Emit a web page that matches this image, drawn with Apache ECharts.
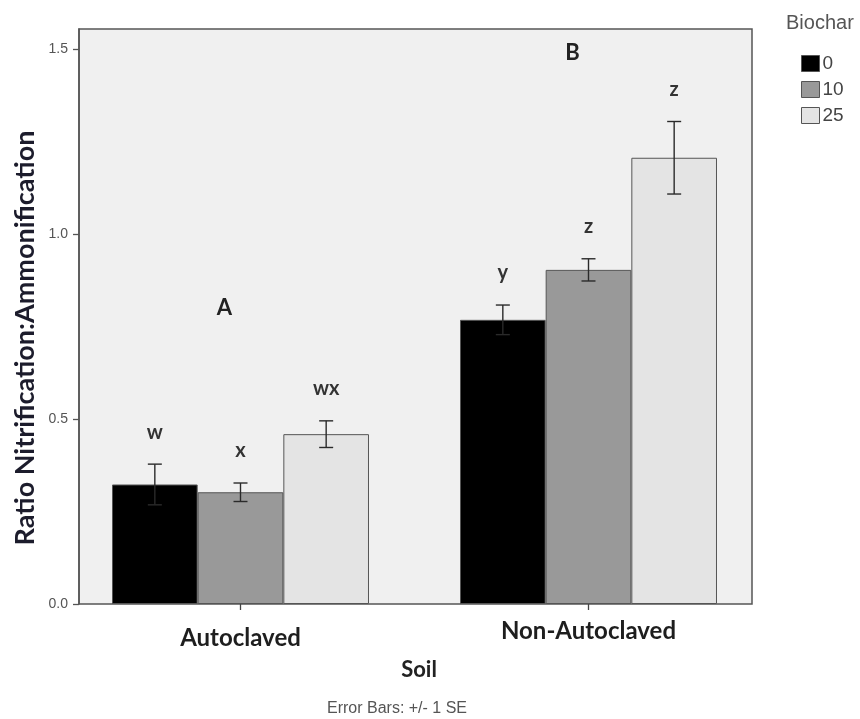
<!DOCTYPE html>
<html>
<head>
<meta charset="utf-8">
<script src="https://cdn.jsdelivr.net/npm/echarts@6/dist/echarts.min.js"></script>
<style>
  html, body { margin: 0; padding: 0; background: #ffffff; }
  #chart { width: 860px; height: 719px; }
</style>
</head>
<body>
<div id="chart"></div>
<script>
// Soil treatment groups and biochar rates
const soils = ['Autoclaved', 'Non-Autoclaved'];
const biocharRates = ['0', '10', '25'];

// Mean ratio nitrification:ammonification per biochar rate
const mean0 = [0.323, 0.768];
const mean10 = [0.302, 0.903];
const mean25 = [0.459, 1.206];

// Standard errors
const se0 = [0.055, 0.040];
const se10 = [0.025, 0.030];
const se25 = [0.036, 0.098];

// Significance letters (within-group and between-group)
const letters0 = ['w', 'y'];
const letters10 = ['x', 'z'];
const letters25 = ['wx', 'z'];
const groupLetters = ['A', 'B'];
const groupLetterAt = [0.80, 1.49];

// Y axis ticks
const yTicks = [0.0, 0.5, 1.0, 1.5];
const yMax = 1.554;

const means = [mean0, mean10, mean25];
const ses = [se0, se10, se25];
const letters = [letters0, letters10, letters25];
const fills = ['#000000', '#999999', '#e4e4e4'];

const GAP = 0.2615;           // barCategoryGap as a fraction
const FRAME = { left: 79, right: 108, top: 29, bottom: 115 };
const BARS = { left: 66.5, right: 97.5, top: 29, bottom: 115 };

const sansLabel = '"Liberation Sans", Arial, sans-serif';
const sansTitle = 'Lato, "Open Sans", sans-serif';

// error bar data: [category, seriesIdx, mean, se]
const errData = [];
for (let k = 0; k < 3; k++) {
  for (let c = 0; c < soils.length; c++) {
    errData.push([c, k, means[k][c], ses[k][c]]);
  }
}

function renderErr(params, api) {
  const c = api.value(0), k = api.value(1), m = api.value(2), se = api.value(3);
  const band = api.size([1, 0])[0];
  const bw = band * (1 - GAP) / 3;
  const center = api.coord([c, m]);
  const x = center[0] + (k - 1) * bw;
  const yTop = api.coord([c, m + se])[1];
  const yBot = api.coord([c, m - se])[1];
  const cap = 7;
  const st = { stroke: '#2a2a2a', lineWidth: 1.4 };
  const idx = params.dataIndex;
  const kk = Math.floor(idx / soils.length), cc = idx % soils.length;
  return {
    type: 'group',
    children: [
      { type: 'line', shape: { x1: x, y1: yTop, x2: x, y2: yBot }, style: st },
      { type: 'line', shape: { x1: x - cap, y1: yTop, x2: x + cap, y2: yTop }, style: st },
      { type: 'line', shape: { x1: x - cap, y1: yBot, x2: x + cap, y2: yBot }, style: st },
      {
        type: 'text',
        style: {
          x: x, y: yTop - 32,
          text: letters[kk][cc],
          fill: '#333333',
          font: 'bold 20px ' + sansTitle,
          textAlign: 'center', textVerticalAlign: 'middle'
        }
      }
    ]
  };
}

function renderGroupLetter(params, api) {
  const c = api.value(0), v = api.value(1);
  const p = api.coord([c, v]);
  return {
    type: 'text',
    style: {
      x: p[0] - 16, y: p[1],
      text: groupLetters[params.dataIndex],
      fill: '#222222',
      font: 'bold 22px ' + sansTitle,
      textAlign: 'center', textVerticalAlign: 'middle'
    }
  };
}

const chart = echarts.init(document.getElementById('chart'), null, { renderer: 'canvas' });

const option = {
  animation: false,
  backgroundColor: '#ffffff',
  title: [
    { text: 'Biochar', left: 781, top: 8, textStyle: { fontFamily: sansLabel, fontSize: 20, fontWeight: 'normal', color: '#555555' } },
    { text: 'Soil', left: 414, top: 654, textAlign: 'center', textStyle: { fontFamily: sansTitle, fontSize: 22, fontWeight: 'bold', color: '#222222' } },
    { text: 'Error Bars: +/- 1 SE', left: 392, top: 696, textAlign: 'center', textStyle: { fontFamily: sansLabel, fontSize: 16, fontWeight: 'normal', color: '#555555' } }
  ],
  legend: {
    data: biocharRates,
    orient: 'vertical',
    left: 796, top: 49,
    itemWidth: 18, itemHeight: 16, itemGap: 7,
    icon: 'rect',
    itemStyle: { borderColor: '#555555', borderWidth: 1 },
    textStyle: { fontFamily: sansLabel, fontSize: 19, color: '#444444', padding: [0, 0, 0, -2] }
  },
  grid: [
    Object.assign({ show: true, backgroundColor: '#f0f0f0', borderColor: '#555555', borderWidth: 1.5 }, FRAME),
    Object.assign({ show: false }, BARS)
  ],
  xAxis: [
    { gridIndex: 0, type: 'category', data: soils, show: false },
    {
      gridIndex: 1, type: 'category', data: [
        { value: soils[0], textStyle: { padding: [7, 0, 0, 0] } },
        { value: soils[1] }
      ],
      axisLine: { show: false },
      axisTick: { show: true, alignWithLabel: true, length: 6, lineStyle: { color: '#444444', width: 1.3 } },
      axisLabel: { margin: 15, fontFamily: sansTitle, fontSize: 24, lineHeight: 24, fontWeight: 'bold', color: '#1e1e1e' }
    }
  ],
  yAxis: [
    {
      gridIndex: 0, type: 'value', min: 0, max: yMax, interval: 0.5,
      axisLine: { show: true, lineStyle: { color: '#555555', width: 1.5 } },
      axisTick: { show: true, length: 6, customValues: yTicks, lineStyle: { color: '#555555', width: 1.3 } },
      axisLabel: {
        margin: 11, fontFamily: sansLabel, fontSize: 14, color: '#555555',
        customValues: yTicks,
        formatter: v => (yTicks.some(t => Math.abs(t - v) < 1e-9) ? v.toFixed(1) : '')
      },
      splitLine: { show: false }
    },
    { gridIndex: 1, type: 'value', min: 0, max: yMax, show: false }
  ],
  graphic: [
    {
      type: 'text', x: 25, y: 338, rotation: Math.PI / 2,
      style: {
        text: 'Ratio Nitrification:Ammonification',
        font: 'bold 27px ' + sansTitle, fill: '#1c1c2c',
        textAlign: 'center', textVerticalAlign: 'middle'
      }
    }
  ],
  series: [
    ...biocharRates.map((name, k) => ({
      name: name, type: 'bar', xAxisIndex: 1, yAxisIndex: 1,
      data: means[k],
      barGap: 0, barCategoryGap: (GAP * 100) + '%',
      itemStyle: { color: fills[k], borderColor: '#555555', borderWidth: 1 }
    })),
    {
      type: 'custom', xAxisIndex: 1, yAxisIndex: 1, z: 5,
      renderItem: renderErr, data: errData, silent: true
    },
    {
      type: 'custom', xAxisIndex: 1, yAxisIndex: 1, z: 5,
      renderItem: renderGroupLetter,
      data: groupLetterAt.map((v, c) => [c, v]), silent: true
    }
  ]
};

chart.setOption(option);
</script>
</body>
</html>
